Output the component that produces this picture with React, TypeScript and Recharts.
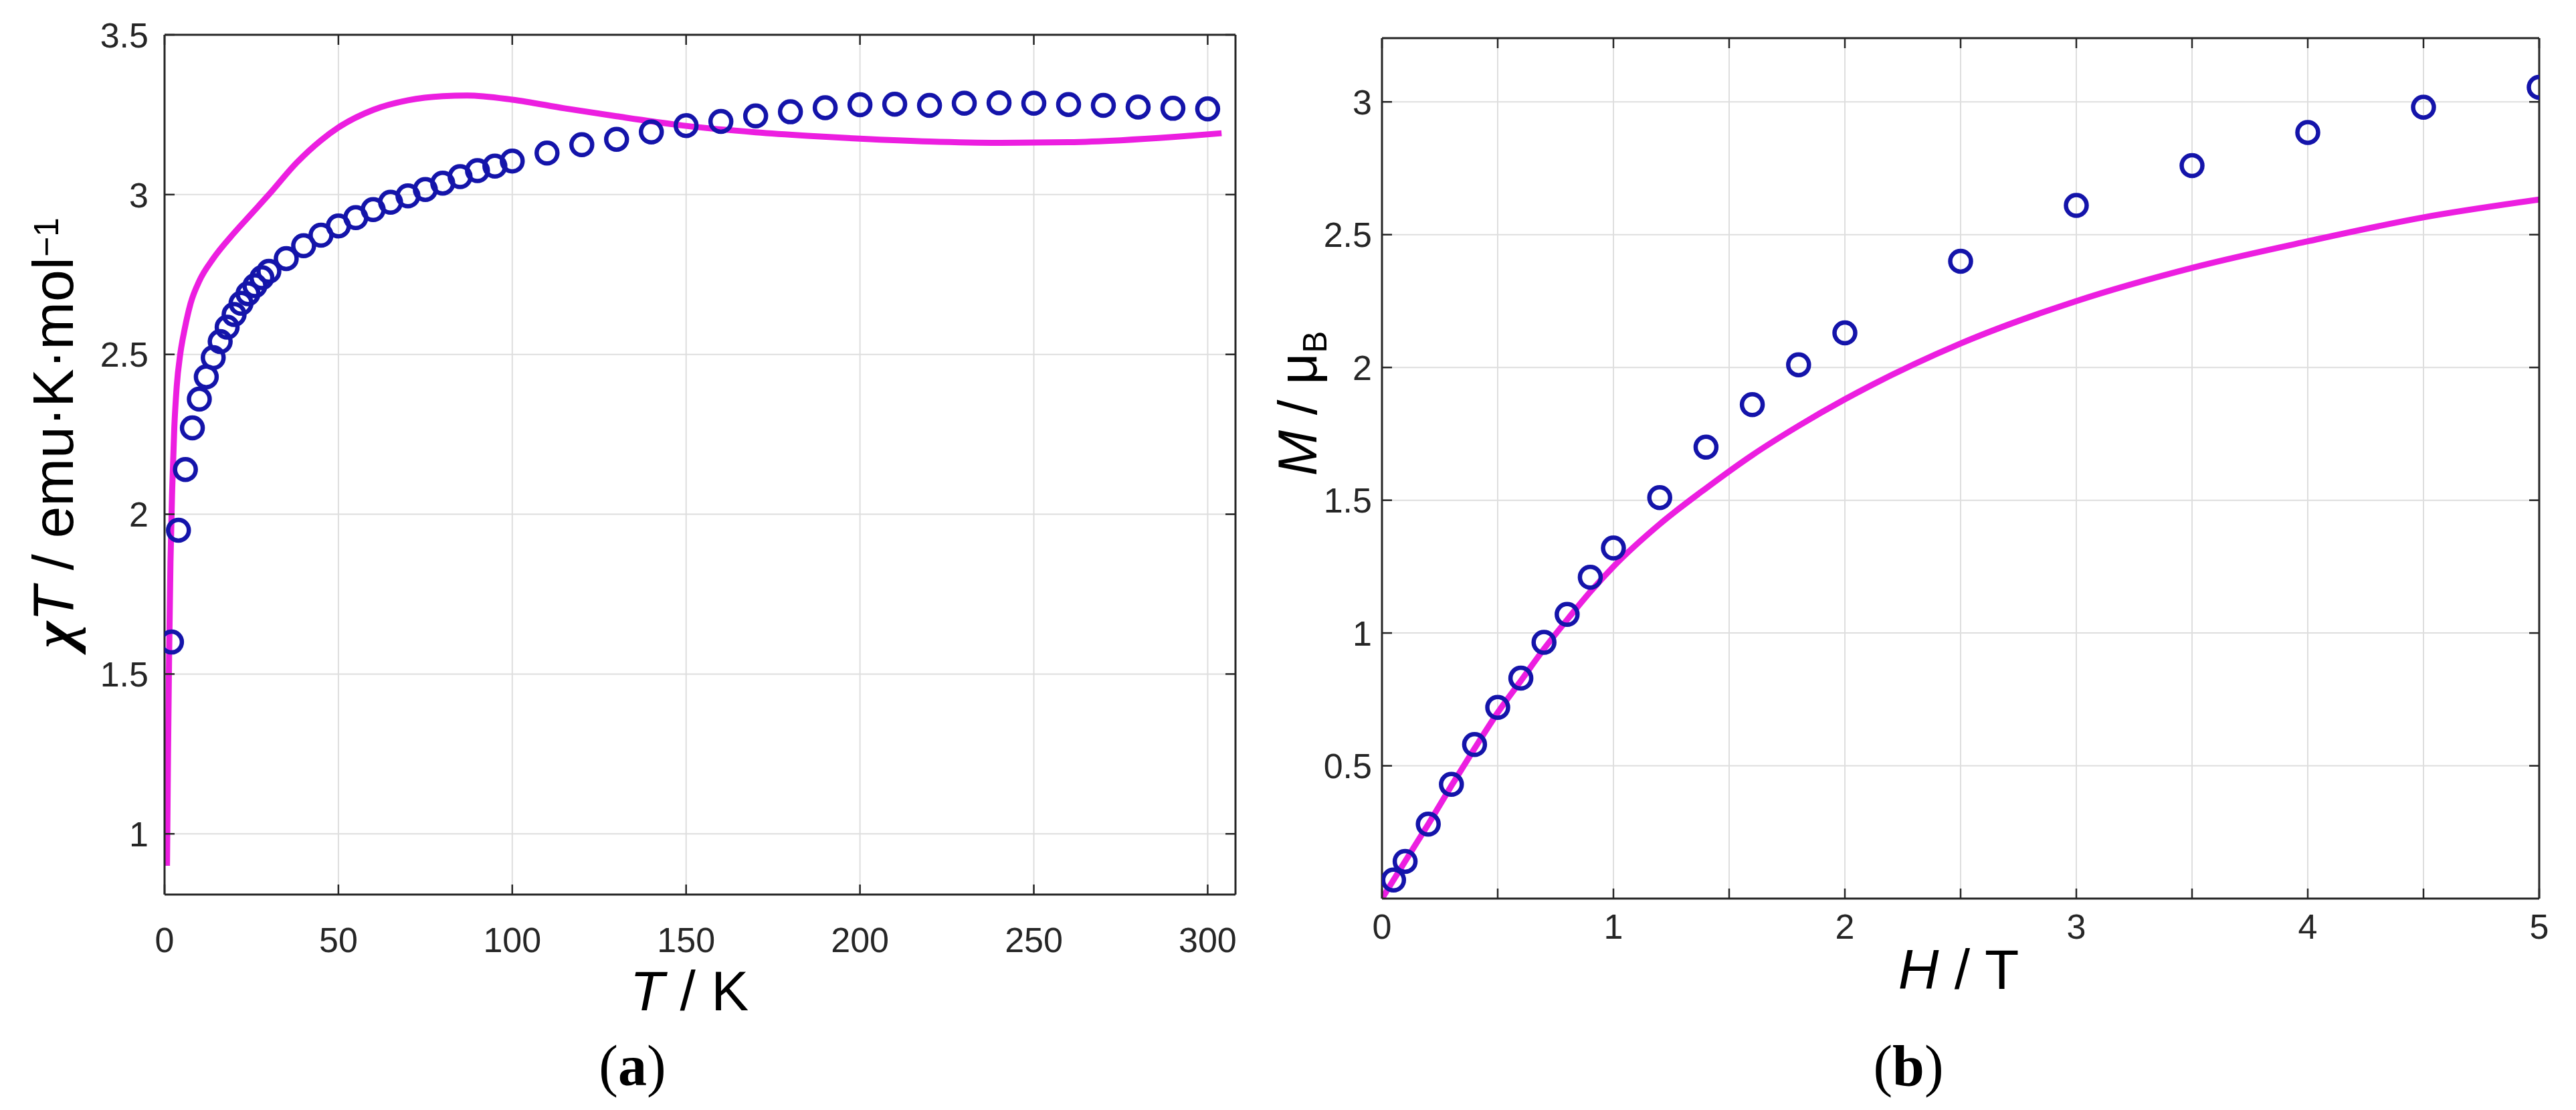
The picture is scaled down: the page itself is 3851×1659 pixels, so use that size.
import React from 'react';
import { ComposedChart, XAxis, YAxis, CartesianGrid, Line, Scatter, Label } from 'recharts';

// ---------- data: panel (a) chi*T vs T ----------
const chiT_T = [2, 4, 6, 8, 10, 12, 14, 16, 18, 20, 22, 24, 26, 28, 30,
  35, 40, 45, 50, 55, 60, 65, 70, 75, 80, 85, 90, 95, 100,
  110, 120, 130, 140, 150, 160, 170, 180, 190, 200, 210, 220, 230, 240, 250, 260, 270, 280, 290, 300];
const chiT_exp = [1.60, 1.95, 2.14, 2.27, 2.36, 2.43, 2.49, 2.54, 2.585, 2.625, 2.66, 2.69, 2.715, 2.74, 2.76,
  2.80, 2.84, 2.873, 2.902, 2.928, 2.953, 2.976, 2.996, 3.016, 3.036, 3.056, 3.075, 3.089, 3.105,
  3.13, 3.156, 3.173, 3.196, 3.216, 3.229, 3.246, 3.259, 3.272, 3.281, 3.283, 3.279, 3.286, 3.287, 3.286, 3.282, 3.279, 3.274, 3.27, 3.268];
const chiFit_T = [0.7, 1.0, 1.3, 1.7, 2.2, 2.8, 3.5, 4.5, 5.8, 7.5, 10, 14, 20, 25, 30, 38, 45, 50, 60, 70, 80, 87,
  100, 115, 130, 150, 170, 185, 200, 220, 240, 260, 275, 290, 304];
const chiFit_v = [0.9, 1.25, 1.55, 1.85, 2.08, 2.27, 2.40, 2.50, 2.58, 2.66, 2.73, 2.80, 2.88, 2.94, 3.00, 3.10, 3.17, 3.21, 3.265, 3.295, 3.308, 3.31,
  3.297, 3.27, 3.245, 3.215, 3.195, 3.184, 3.175, 3.166, 3.162, 3.164, 3.17, 3.18, 3.192];
const tTicks = [0, 50, 100, 150, 200, 250, 300];
const chiTicks = [1, 1.5, 2, 2.5, 3, 3.5];

// ---------- data: panel (b) M vs H ----------
const mag_H = [0.05, 0.1, 0.2, 0.3, 0.4, 0.5, 0.6, 0.7, 0.8, 0.9, 1.0, 1.2, 1.4, 1.6, 1.8, 2.0, 2.5, 3.0, 3.5, 4.0, 4.5, 5.0];
const mag_M = [0.07, 0.14, 0.28, 0.43, 0.58, 0.72, 0.83, 0.965, 1.07, 1.21, 1.32, 1.51, 1.70, 1.86, 2.01, 2.13, 2.40, 2.61, 2.76, 2.885, 2.98, 3.055];
const magFit_H = [0, 0.1, 0.2, 0.3, 0.4, 0.5, 0.6, 0.7, 0.8, 0.9, 1.0, 1.2, 1.4, 1.6, 1.8, 2.0, 2.5, 3.0, 3.5, 4.0, 4.5, 5.0];
const magFit_M = [0, 0.14, 0.28, 0.425, 0.565, 0.70, 0.82, 0.94, 1.05, 1.155, 1.25, 1.41, 1.545, 1.67, 1.78, 1.88, 2.09, 2.25, 2.375, 2.475, 2.565, 2.632];
const hTicks = [0, 0.5, 1, 1.5, 2, 2.5, 3, 3.5, 4, 4.5, 5];
const hLabels = [0, 1, 2, 3, 4, 5];
const mTicks = [0.5, 1, 1.5, 2, 2.5, 3];

const zip = (xs: number[], ys: number[]) => xs.map((x, i) => ({ x, y: ys[i] }));
const chiExpData = zip(chiT_T, chiT_exp);
const chiFitData = zip(chiFit_T, chiFit_v);
const magExpData = zip(mag_H, mag_M);
const magFitData = zip(magFit_H, magFit_M);

const AX = '#262626';
const GRID = '#dedede';
const MAG = '#ec1ee0';
const BLUE = '#1414aa';
const SANS = '"Liberation Sans", Arial, Helvetica, sans-serif';
const SERIF = '"Liberation Serif", "Times New Roman", serif';
const TICK_FS = 52;
const TICK_LEN = 15;

type Side = 'bottom' | 'top' | 'left' | 'right';
function tickR(side: Side, gap = 0, show?: (v: number) => boolean) {
  return (props: any) => {
    const { x, y, payload, index } = props;
    const v = payload.value as number;
    let x2 = x, y2 = y;
    if (side === 'bottom') y2 = y - TICK_LEN;
    else if (side === 'top') y2 = y + TICK_LEN;
    else if (side === 'left') x2 = x + TICK_LEN;
    else x2 = x - TICK_LEN;
    let label: React.ReactNode = null;
    if (show && show(v)) {
      if (side === 'bottom') {
        label = <text x={x} y={y + gap} textAnchor="middle" fill={AX} fontSize={TICK_FS} fontFamily={SANS}>{String(v)}</text>;
      } else if (side === 'left') {
        label = <text x={x - gap} y={y} dy="0.36em" textAnchor="end" fill={AX} fontSize={TICK_FS} fontFamily={SANS}>{String(v)}</text>;
      }
    }
    return (
      <g key={`${side}-${index}`}>
        <line x1={x} y1={y} x2={x2} y2={y2} stroke={AX} strokeWidth={2.5} />
        {label}
      </g>
    );
  };
}

const Ring = (p: any) => (
  <circle cx={p.cx} cy={p.cy} r={15.5} fill="none" stroke={BLUE} strokeWidth={6.5} />
);

const axisLine = { stroke: AX, strokeWidth: 3 };

function ChiTChart() {
  return (
    <ComposedChart width={1870} height={1659} margin={{ top: 51, right: 22, bottom: 222, left: 0 }}>
      <CartesianGrid xAxisId="b" yAxisId="l" stroke={GRID} strokeWidth={2} />
      <XAxis xAxisId="b" type="number" dataKey="x" domain={[0, 308]} ticks={tTicks} allowDataOverflow
        height={100} orientation="bottom" axisLine={axisLine} tickLine={false} tickSize={0} tickMargin={0}
        interval={0} tick={tickR('bottom', 86, () => true)}>
        <Label content={(p: any) => {
          const vb = p.viewBox;
          const cx = vb.x + vb.width / 2 - 16;
          return (
            <g>
              <text x={cx} y={vb.y + 173} textAnchor="middle" fontSize={84} fontFamily={SANS} fill="#000">
                <tspan fontStyle="italic">T</tspan> / K
              </text>
              <text x={cx - 85} y={vb.y + 285} textAnchor="middle" fontSize={86} fontFamily={SERIF} fill="#000">
                (<tspan fontWeight="bold">a</tspan>)
              </text>
            </g>
          );
        }} />
      </XAxis>
      <XAxis xAxisId="t" type="number" dataKey="x" domain={[0, 308]} ticks={tTicks} allowDataOverflow
        height={1} orientation="top" axisLine={axisLine} tickLine={false} tickSize={0} tickMargin={0}
        interval={0} tick={tickR('top')} />
      <YAxis yAxisId="l" type="number" domain={[0.81, 3.5]} ticks={chiTicks} allowDataOverflow
        width={246} orientation="left" axisLine={axisLine} tickLine={false} tickSize={0} tickMargin={0}
        interval={0} tick={tickR('left', 24, () => true)}>
        <Label content={(p: any) => {
          const vb = p.viewBox;
          const bx = vb.x + 109;
          const cy = vb.y + 595;
          return (
            <text x={bx} y={cy} transform={`rotate(-90, ${bx}, ${cy})`} textAnchor="middle" fontSize={86} fontFamily={SANS} fill="#000">
              <tspan fontFamily={SERIF} fontStyle="italic" fontWeight="bold">χ</tspan>
              <tspan fontStyle="italic">T</tspan> / emu·K·mol<tspan dy="-0.42em" fontSize="0.6em">−1</tspan>
            </text>
          );
        }} />
      </YAxis>
      <YAxis yAxisId="r" type="number" domain={[0.81, 3.5]} ticks={chiTicks} allowDataOverflow
        width={1} orientation="right" axisLine={axisLine} tickLine={false} tickSize={0} tickMargin={0}
        interval={0} tick={tickR('right')} />
      <Scatter xAxisId="b" yAxisId="l" data={chiExpData} dataKey="y" shape={Ring} isAnimationActive={false} />
      <Line xAxisId="b" yAxisId="l" data={chiFitData} dataKey="y" type="monotone" stroke={MAG} strokeWidth={9}
        dot={false} activeDot={false} isAnimationActive={false} />
    </ComposedChart>
  );
}

function MagChart() {
  return (
    <ComposedChart width={1981} height={1659} margin={{ top: 56, right: 54, bottom: 216, left: 0 }}>
      <CartesianGrid xAxisId="b" yAxisId="l" stroke={GRID} strokeWidth={2} />
      <XAxis xAxisId="b" type="number" dataKey="x" domain={[0, 5]} ticks={hTicks} allowDataOverflow
        height={100} orientation="bottom" axisLine={axisLine} tickLine={false} tickSize={0} tickMargin={0}
        interval={0} tick={tickR('bottom', 60, (v) => hLabels.includes(v))}>
        <Label content={(p: any) => {
          const vb = p.viewBox;
          const cx = vb.x + vb.width / 2 - 3;
          return (
            <g>
              <text x={cx} y={vb.y + 135} textAnchor="middle" fontSize={84} fontFamily={SANS} fill="#000">
                <tspan fontStyle="italic">H</tspan> / T
              </text>
              <text x={cx - 75} y={vb.y + 279} textAnchor="middle" fontSize={86} fontFamily={SERIF} fill="#000">
                (<tspan fontWeight="bold">b</tspan>)
              </text>
            </g>
          );
        }} />
      </XAxis>
      <XAxis xAxisId="t" type="number" dataKey="x" domain={[0, 5]} ticks={hTicks} allowDataOverflow
        height={1} orientation="top" axisLine={axisLine} tickLine={false} tickSize={0} tickMargin={0}
        interval={0} tick={tickR('top')} />
      <YAxis yAxisId="l" type="number" domain={[0, 3.24]} ticks={mTicks} allowDataOverflow
        width={196} orientation="left" axisLine={axisLine} tickLine={false} tickSize={0} tickMargin={0}
        interval={0} tick={tickR('left', 15, () => true)}>
        <Label content={(p: any) => {
          const vb = p.viewBox;
          const bx = vb.x + 98;
          const cy = vb.y + 546;
          return (
            <text x={bx} y={cy} transform={`rotate(-90, ${bx}, ${cy})`} textAnchor="middle" fontSize={82} fontFamily={SANS} fill="#000">
              <tspan fontStyle="italic">M</tspan> / μ<tspan dy="0.3em" fontSize="0.6em">B</tspan>
            </text>
          );
        }} />
      </YAxis>
      <YAxis yAxisId="r" type="number" domain={[0, 3.24]} ticks={mTicks} allowDataOverflow
        width={1} orientation="right" axisLine={axisLine} tickLine={false} tickSize={0} tickMargin={0}
        interval={0} tick={tickR('right')} />
      <Scatter xAxisId="b" yAxisId="l" data={magExpData} dataKey="y" shape={Ring} isAnimationActive={false} />
      <Line xAxisId="b" yAxisId="l" data={magFitData} dataKey="y" type="monotone" stroke={MAG} strokeWidth={9}
        dot={false} activeDot={false} isAnimationActive={false} />
    </ComposedChart>
  );
}

export default function App() {
  return (
    <div style={{ position: 'absolute', left: 0, top: 0, width: 3851, height: 1659, background: '#fff', overflow: 'hidden' }}>
      <div style={{ position: 'absolute', left: 0, top: 0 }}>
        <ChiTChart />
      </div>
      <div style={{ position: 'absolute', left: 1870, top: 0 }}>
        <MagChart />
      </div>
    </div>
  );
}
